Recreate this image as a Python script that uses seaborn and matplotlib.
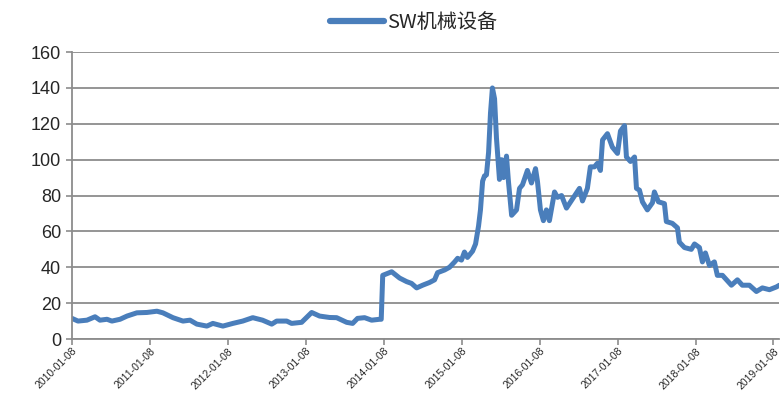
import pandas as pd
import matplotlib
matplotlib.use("Agg")
import matplotlib.pyplot as plt
import matplotlib.dates as mdates
import seaborn as sns

dates = [
    "2010-01-08", "2010-02-05", "2010-03-19", "2010-04-26", "2010-05-19", "2010-06-21",
    "2010-07-14", "2010-08-21", "2010-09-23", "2010-11-08", "2010-12-25", "2011-02-10",
    "2011-03-10", "2011-04-26", "2011-06-12", "2011-07-15", "2011-08-16", "2011-10-02",
    "2011-10-30", "2011-12-16", "2012-02-01", "2012-03-18", "2012-05-04", "2012-06-19",
    "2012-08-01", "2012-08-24", "2012-10-10", "2012-11-02", "2012-12-19", "2013-02-04",
    "2013-03-13", "2013-04-29", "2013-06-01", "2013-07-18", "2013-08-15", "2013-09-07",
    "2013-10-10", "2013-11-12", "2013-12-19", "2013-12-27", "2014-01-03", "2014-02-14",
    "2014-03-23", "2014-04-25", "2014-05-18", "2014-06-11", "2014-07-09", "2014-08-10",
    "2014-09-03", "2014-09-17", "2014-10-20", "2014-11-12", "2014-12-06", "2014-12-20",
    "2015-01-07", "2015-01-21", "2015-02-04", "2015-02-28", "2015-03-14", "2015-03-28",
    "2015-04-06", "2015-04-16", "2015-04-25", "2015-05-04", "2015-05-14", "2015-05-23",
    "2015-06-01", "2015-06-11", "2015-06-20", "2015-07-04", "2015-07-14", "2015-07-23",
    "2015-08-06", "2015-08-15", "2015-08-30", "2015-09-22", "2015-10-06", "2015-10-20",
    "2015-11-12", "2015-12-01", "2015-12-20", "2015-12-29", "2016-01-12", "2016-01-26",
    "2016-02-09", "2016-02-23", "2016-03-18", "2016-04-01", "2016-04-20", "2016-05-13",
    "2016-06-10", "2016-07-13", "2016-07-27", "2016-08-19", "2016-09-02", "2016-09-21",
    "2016-10-05", "2016-10-19", "2016-10-29", "2016-11-21", "2016-12-14", "2017-01-07",
    "2017-01-21", "2017-02-09", "2017-02-18", "2017-03-09", "2017-03-28", "2017-04-06",
    "2017-04-20", "2017-05-04", "2017-05-27", "2017-06-20", "2017-06-29", "2017-07-18",
    "2017-08-15", "2017-08-24", "2017-09-21", "2017-10-15", "2017-10-24", "2017-11-17",
    "2017-12-19", "2018-01-03", "2018-01-26", "2018-02-09", "2018-02-23", "2018-03-14",
    "2018-04-06", "2018-04-20", "2018-05-14", "2018-06-25", "2018-07-23", "2018-08-15",
    "2018-09-17", "2018-10-20", "2018-11-17", "2018-12-20", "2019-01-21", "2019-02-05",
]
values = [
    11.5, 10.0, 10.5, 12.4, 10.5, 11.0,
    10.0, 11.0, 12.8, 14.6, 14.8, 15.5,
    14.6, 11.9, 10.0, 10.5, 8.3, 7.2,
    8.7, 7.2, 8.7, 10.0, 11.9, 10.5,
    8.3, 10.0, 10.0, 8.7, 9.3, 14.8,
    12.8, 12.0, 11.9, 9.3, 8.7, 11.5,
    11.9, 10.5, 11.0, 11.0, 35.5, 37.5,
    34.0, 32.0, 31.0, 28.5, 30.0, 31.5,
    33.0, 37.0, 38.5, 40.0, 43.0, 45.0,
    44.0, 48.5, 45.5, 49.0, 53.0, 63.0,
    72.0, 88.0, 91.0, 91.5, 104.0, 126.0,
    140.0, 134.0, 112.0, 89.0, 100.0, 90.0,
    102.0, 88.0, 69.0, 72.0, 84.0, 86.0,
    94.0, 87.0, 95.0, 88.0, 72.0, 66.0,
    72.0, 66.0, 82.0, 79.0, 80.0, 73.0,
    78.0, 84.0, 77.0, 84.0, 96.0, 96.0,
    98.0, 94.0, 111.0, 114.5, 107.0, 103.5,
    116.0, 119.0, 101.5, 99.0, 101.5, 84.0,
    83.0, 76.5, 72.0, 76.0, 82.0, 76.5,
    75.5, 65.5, 64.5, 62.0, 54.0, 51.0,
    50.0, 53.0, 51.0, 43.0, 48.0, 41.0,
    43.0, 35.5, 35.5, 30.0, 33.0, 30.0,
    30.0, 26.5, 28.5, 27.5, 29.0, 30.0,
]
tick_dates = ["2010-01-08", "2011-01-08", "2012-01-08", "2013-01-08", "2014-01-08",
              "2015-01-08", "2016-01-08", "2017-01-08", "2018-01-08", "2019-01-08"]
series_name = "SW机械设备"

df = pd.DataFrame({"date": pd.to_datetime(dates), "value": values})

sns.set_style("white")
plt.rcParams['font.family'] = ['Noto Sans CJK SC', 'DejaVu Sans']

fig = plt.figure(figsize=(7.8, 4.01), dpi=100)
ax = fig.add_axes([0.0923, 0.1546, 0.907, 0.7155])

grid_color = "#8c8c8c"
sns.lineplot(data=df, x="date", y="value", ax=ax, color="#4a7ebb",
             linewidth=3.6, label=series_name, solid_joinstyle="round")

ax.set_ylim(0, 160)
ax.set_yticks(range(0, 161, 20))
ax.set_xlim(pd.Timestamp("2010-01-08"), pd.Timestamp("2019-02-05"))
ax.set_xticks(pd.to_datetime(tick_dates))
ax.xaxis.set_major_formatter(mdates.DateFormatter("%Y-%m-%d"))

ax.yaxis.grid(True, color=grid_color, linewidth=1.3)
ax.xaxis.grid(False)
ax.set_axisbelow(True)
for side in ["top", "right"]:
    ax.spines[side].set_visible(False)
for side in ["left", "bottom"]:
    ax.spines[side].set_color(grid_color)
    ax.spines[side].set_linewidth(1.3)

ax.tick_params(axis="y", labelsize=13, length=4, color=grid_color, width=1.2,
               left=True, pad=4)
ax.tick_params(axis="x", labelsize=7.5, length=4, color=grid_color, width=1.2,
               bottom=True, pad=1)
for lab in ax.get_yticklabels():
    lab.set_family(['Liberation Sans', 'DejaVu Sans'])
for lab in ax.get_xticklabels():
    lab.set_rotation(45)
    lab.set_ha("right")
    lab.set_rotation_mode("anchor")
    lab.set_family(['Liberation Sans', 'DejaVu Sans'])
ax.set_xlabel("")
ax.set_ylabel("")

leg = ax.legend(loc="center", bbox_to_anchor=(0.53, 0.945), bbox_transform=fig.transFigure,
                frameon=False, fontsize=14.5, handlelength=2.7, handletextpad=0.15)
for line in leg.get_lines():
    line.set_linewidth(4.5)

fig.savefig("out.png", dpi=100)
